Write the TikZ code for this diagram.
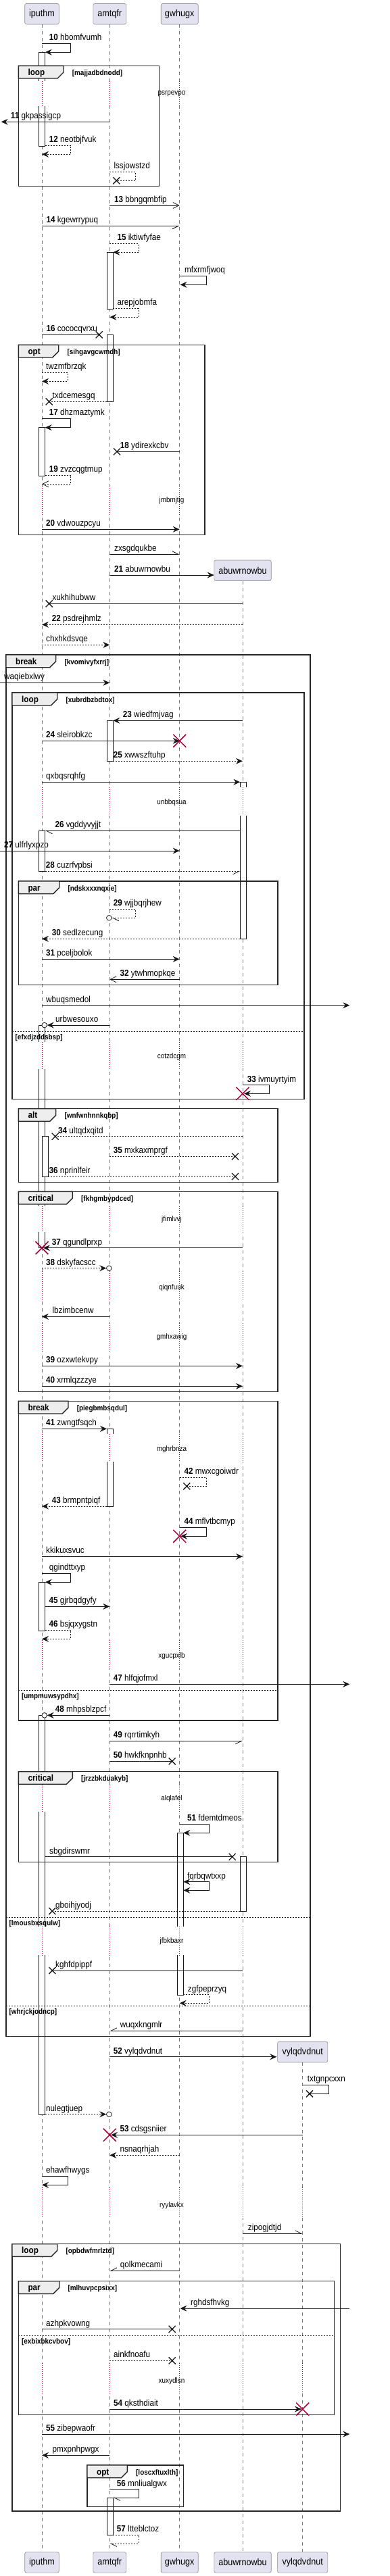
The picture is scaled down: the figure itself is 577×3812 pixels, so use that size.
\documentclass[tikz,border=0pt]{standalone}
\usepackage{fontspec}
\setmainfont[FakeStretch=0.9]{Liberation Sans}
\usetikzlibrary{arrows.meta}
\definecolor{SeqInk}{HTML}{181818}
\definecolor{SeqPart}{HTML}{E2E2F0}
\definecolor{SeqLine}{HTML}{7A7A7A}
\definecolor{SeqTab}{HTML}{EEEEEE}
\definecolor{SeqKill}{HTML}{A80036}
\tikzset{
  partbox/.style={draw=black!45,fill=SeqPart,rounded corners=2.5pt,line width=0.6pt,minimum height=30.5pt,inner sep=0pt,font=\fontsize{14}{16}\selectfont},
  lifeline/.style={draw=SeqLine,line width=0.6pt,dash pattern=on 5pt off 5pt},
  actbox/.style={draw=SeqInk,fill=white,line width=0.7pt},
  framebox/.style={draw=black!85,line width=1.4pt},
  tabbox/.style={draw=black!85,fill=SeqTab,line width=1.4pt},
  sepline/.style={draw=SeqInk,line width=0.7pt,dash pattern=on 2pt off 2pt},
  grplbl/.style={anchor=base west,inner sep=0pt,font=\fontsize{13}{15}\selectfont\bfseries},
  guardlbl/.style={anchor=base west,inner sep=0pt,font=\fontsize{11}{13}\selectfont\bfseries},
  msglbl/.style={anchor=base west,inner sep=0pt,font=\fontsize{13}{15}\selectfont},
  delaylbl/.style={inner sep=0pt,font=\fontsize{11}{13}\selectfont},
  delayline/.style={draw=SeqKill,line width=0.7pt,dash pattern=on 1pt off 2pt},
  msgline/.style={draw=SeqInk,line width=0.8pt},
  retline/.style={dash pattern=on 2pt off 2pt},
  tipfill/.style={-{Stealth[length=10pt,width=9pt,inset=3.5pt]}},
  tipboth/.style={{Stealth[length=10pt,width=9pt,inset=3.5pt]}-{Stealth[length=10pt,width=9pt,inset=3.5pt]}},
  tipopen/.style={-{Straight Barb[length=9pt,width=9pt]}},
  tipleft/.style={-{Straight Barb[left,length=9pt,width=9pt]}},
  tipright/.style={-{Straight Barb[right,length=9pt,width=9pt]}},
  xcross/.style={draw=SeqInk,line width=1.3pt},
  killcross/.style={draw=SeqKill,line width=1.5pt}
}
\newcommand\sn[1]{\textbf{#1}}
\newcommand\seqmsg[6][]{\draw[msgline,#1] (#2,#4) -- (#3,#4);
  \node[msglbl] at ([yshift=4.5pt]#5,#4) {#6};}
\newcommand\selfmsg[8][]{\draw[msgline,#1] (#2,#4) -- (#3,#4) -- (#3,#5) -- (#6,#5);
  \node[msglbl] at ([yshift=4.5pt]#7,#4) {#8};}
\newcommand\crossend[2]{\draw[xcross] (#1-5,#2-5) -- (#1+5,#2+5) (#1-5,#2+5) -- (#1+5,#2-5);}
\newcommand\killmark[2]{\draw[killcross] (#1-9.5,#2-9.5) -- (#1+9.5,#2+9.5) (#1-9.5,#2+9.5) -- (#1+9.5,#2-9.5);}
\newcommand\circend[2]{\draw[msgline,fill=white] (#1,#2) circle (3.8pt);}
\newcommand\actbar[3]{\draw[actbox] (#1,#2) rectangle (#1+9.3,#3);}
\newcommand\grp[7]{\draw[framebox] (#1,#2) rectangle (#3,#4);
  \draw[tabbox] (#1,#2) -- (#5,#2) -- (#5,#2+9.7) -- (#5-9,#2+18.7) -- (#1,#2+18.7) -- cycle;
  \node[grplbl] at (#1+14,#2+14) {#6};
  \node[guardlbl] at (#5+12.7,#2+14) {#7};}
\newcommand\grpsep[4]{\draw[sepline] (#1,#3) -- (#2,#3);
  \node[guardlbl] at (#1+4.5,#3+12) {#4};}
\newcommand\delaygap[5]{\foreach \lx in {#5}{\fill[white] (\lx-6.5,#1) rectangle (\lx+6.5,#2);
    \draw[delayline] (\lx,#1) -- (\lx,#2);}
  \node[delaylbl] at (254,#3) {#4};}

\begin{document}
\begin{tikzpicture}[x=1pt,y=-1pt]
\useasboundingbox (0,0) rectangle (577,3812);
% participants
\node[partbox,minimum width=50.6pt] (ipT) at (62,20.7) {iputhm};
\node[partbox,minimum width=49pt] (amT) at (162.3,20.7) {amtqfr};
\node[partbox,minimum width=55pt] (gwT) at (265.7,20.7) {gwhugx};
\node[partbox,minimum width=84.4pt] (abT) at (359,844.2) {abuwrnowbu};
\node[partbox,minimum width=74.3pt] (vyT) at (447.7,3036.5) {vylqdvdnut};
\node[partbox,minimum width=50.6pt] (ipB) at (62,3791.8) {iputhm};
\node[partbox,minimum width=49pt] (amB) at (162.3,3791.8) {amtqfr};
\node[partbox,minimum width=55pt] (gwB) at (265.7,3791.8) {gwhugx};
\node[partbox,minimum width=84.4pt] (abB) at (359,3791.8) {abuwrnowbu};
\node[partbox,minimum width=74.3pt] (vyB) at (447.7,3791.8) {vylqdvdnut};
\draw[lifeline] (ipT.south) -- (ipB.north);
\draw[lifeline] (amT.south) -- (amB.north);
\draw[lifeline] (gwT.south) -- (gwB.north);
\draw[lifeline] (abT.south) -- (abB.north);
\draw[lifeline] (vyT.south) -- (vyB.north);
% activations
\actbar{57.3}{77.3}{216}
\actbar{158}{373.3}{457.3}
\actbar{158}{495.3}{594.3}
\actbar{57.3}{632.7}{704}
\actbar{158}{1066.3}{1126.3}
\actbar{355.3}{1157.3}{1389.3}
\actbar{57.3}{1229.3}{1289.3}
\actbar{57.3}{1517}{1846.7}
\actbar{62}{1681.7}{1741}
\actbar{158}{2114.3}{2229}
\actbar{57.3}{2341.3}{2413}
\actbar{57.3}{2538.3}{3129.3}
\actbar{262.3}{2712.3}{2952.3}
\actbar{355.3}{2747.7}{2828}
\actbar{158}{3696}{3751.7}
% groups
\grp{27.3}{97.3}{235.3}{275.7}{94}{loop}{[majjadbdnodd]}
\grp{27.3}{510.3}{303}{791.7}{86.7}{opt}{[sihgavgcwmdh]}
\grp{9}{969}{459}{3013.3}{82.7}{break}{[kvomivyfxrrj]}
\grpsep{9}{459}{2837.3}{[lmousbxsqulw]}
\grpsep{9}{459}{2968.3}{[whrjckjodncp]}
\grp{18}{1025}{450}{1626.7}{84.7}{loop}{[xubrdbzbdtox]}
\grpsep{18}{450}{1526}{[efxdjzddsbsp]}
\grp{27.3}{1304}{411}{1457.7}{87.7}{par}{[ndskxxxnqxie]}
\grp{27.3}{1640.7}{411}{1749.3}{82.7}{alt}{[wnfwnhnnkqbp]}
\grp{27.3}{1763.3}{411}{2059.3}{107.3}{critical}{[fkhgmbypdced]}
\grp{27.3}{2073.3}{411}{2546}{101}{break}{[piegbmbsqdul]}
\grpsep{27.3}{411}{2501}{[umpmuwsypdhx]}
\grp{27.3}{2621.7}{411}{2755.3}{107.3}{critical}{[jrzzbkduakyb]}
\grp{18}{3320.7}{503.3}{3716}{84.7}{loop}{[opbdwfmrlztd]}
\grp{27.3}{3375.7}{494.3}{3573.3}{87.7}{par}{[mlhuvpcpsixx]}
\grpsep{27.3}{494.3}{3456}{[exbixbkcvbov]}
\grp{129}{3648}{271.7}{3709.3}{188.3}{opt}{[loscxftuxlth]}
% delays
\delaygap{120}{157}{138.3}{psrpevpo}{62,162.3,265.7}
\delaygap{719.3}{763.3}{741}{jmbmjtig}{62,162.3,265.7}
\delaygap{1165}{1206.7}{1187.3}{unbbqsua}{62,162.3,265.7,359}
\delaygap{1541.7}{1582}{1563.3}{cotzdcgm}{62,162.3,265.7,359}
\delaygap{1785}{1823.3}{1804.3}{jfimlvvj}{62,162.3,265.7,359}
\delaygap{1881}{1926}{1906}{qiqnfuuk}{62,162.3,265.7,359}
\delaygap{1958}{1999}{1978.3}{gmhxawig}{62,162.3,265.7,359}
\delaygap{2122}{2163.3}{2144.3}{mghrbnza}{62,162.3,265.7,359}
\delaygap{2427}{2470}{2450.3}{xgucpxlb}{62,162.3,265.7,359}
\delaygap{2640.7}{2681}{2661.3}{alqlafel}{62,162.3,265.7,359}
\delaygap{2851}{2893.3}{2872.7}{jfbkbaxr}{62,162.3,265.7,359}
\delaygap{3237}{3281.7}{3263.3}{ryylavkx}{62,162.3,265.7,359,447.7}
\delaygap{3497}{3542.3}{3523.3}{xuxydlsn}{62,162.3,265.7,359,447.7}
% messages
\selfmsg[tipfill]{62}{104.7}{64.3}{77.3}{66.7}{72.7}{\sn{10} hbomfvumh}
\seqmsg[tipfill]{162.3}{1.7}{180.3}{15.7}{\sn{11} gkpassigcp}
\selfmsg[retline,tipfill]{66.7}{104.7}{215.3}{228.3}{62}{72.7}{\sn{12} neotbjfvuk}
\selfmsg[retline]{162.3}{200.7}{254.3}{267.3}{172.3}{168.3}{lssjowstzd}
\crossend{172.3}{267.3}
\seqmsg[tipopen]{162.3}{265.7}{304}{169}{\sn{13} bbngqmbfip}
\seqmsg[tipright]{62}{265.7}{334.3}{68.3}{\sn{14} kgewrrypuq}
\selfmsg[retline,tipfill]{162.3}{205}{360.3}{373.3}{167.3}{173.3}{\sn{15} iktiwfyfae}
\selfmsg[tipfill]{265.7}{305}{408.3}{421.3}{266.5}{273}{mfxrmfjwoq}
\selfmsg[retline,tipfill]{167.3}{205}{456.3}{469.3}{162.3}{173.3}{arepjobmfa}
\seqmsg{62}{146.7}{495.3}{68.3}{\sn{16} cococqvrxu}
\crossend{146.7}{495.3}
\selfmsg[retline,tipfill]{62}{100}{551.3}{564.3}{62}{68}{twzmfbrzqk}
\seqmsg[retline]{158}{72.7}{594.3}{77.3}{txdcemesgq}
\crossend{72.7}{594.3}
\selfmsg[tipfill]{62}{104.7}{619.3}{632.7}{66.7}{72.7}{\sn{17} dhzmaztymk}
\seqmsg{265.7}{173}{668.3}{177.7}{\sn{18} ydirexkcbv}
\crossend{173}{668.3}
\selfmsg[retline,tipopen]{66.7}{104.7}{703.3}{716.3}{62}{72.7}{\sn{19} zvzcqgtmup}
\seqmsg[tipfill]{62}{265.7}{783.3}{68}{\sn{20} vdwouzpcyu}
\seqmsg[tipleft]{162.3}{265.7}{820.3}{169}{zxsgdqukbe}
\seqmsg[tipfill]{162.3}{316.7}{851}{169}{\sn{21} abuwrnowbu}
\seqmsg{359}{72.7}{893.3}{77.3}{xukhihubww}
\crossend{72.7}{893.3}
\seqmsg[retline,tipfill]{359}{62}{924.3}{76.7}{\sn{22} psdrejhmlz}
\seqmsg[retline,tipfill]{62}{162.3}{954.3}{68}{chxhkdsvqe}
\seqmsg[tipfill]{0}{162.3}{1010.3}{6}{waqiebxlwy}
\seqmsg[tipfill]{359}{167.3}{1066.3}{181.7}{\sn{23} wiedfmjvag}
\seqmsg[tipfill]{62}{265.7}{1096.3}{68}{\sn{24} sleirobkzc}
\killmark{265.7}{1096.3}
\seqmsg[retline,tipfill]{167.3}{359}{1126.3}{167.7}{\sn{25} xwwszftuhp}
\seqmsg[tipfill]{62}{355.3}{1157.3}{68}{qxbqsrqhfg}
\seqmsg[tipleft]{355.3}{66.7}{1229.3}{81.3}{\sn{26} vgddyvyjjt}
\seqmsg[tipfill]{0}{265.7}{1259}{6}{\sn{27} ulfrlyxpzo}
\seqmsg[retline,tipright]{66.7}{355.3}{1289.3}{67.7}{\sn{28} cuzrfvpbsi}
\selfmsg[retline,tipleft]{162.3}{200.7}{1345.3}{1358.3}{165.3}{167.7}{\sn{29} wjjbqrjhew}
\circend{161.3}{1358.3}
\seqmsg[retline,tipfill]{355.3}{62}{1389.3}{76.7}{\sn{30} sedlzecung}
\seqmsg[tipfill]{62}{265.7}{1419.3}{68}{\sn{31} pceljbolok}
\seqmsg[tipopen]{265.7}{162.3}{1449.3}{177.3}{\sn{32} ytwhmopkqe}
\seqmsg[tipfill]{62}{517.3}{1487.7}{68}{wbuqsmedol}
\seqmsg[tipfill]{162.3}{69.7}{1517}{82}{urbwesouxo}
\circend{65.7}{1517}
\selfmsg[tipfill]{359}{398}{1605.7}{1618.3}{361}{365.7}{\sn{33} ivmuyrtyim}
\killmark{359}{1618.3}
\seqmsg[retline]{359}{81.7}{1681.7}{86}{\sn{34} ultqdxqitd}
\crossend{81.7}{1681.7}
\seqmsg[retline]{162.3}{348}{1711.3}{167.7}{\sn{35} mxkaxmprgf}
\crossend{348}{1711.3}
\seqmsg[retline]{71.3}{348}{1741}{72.3}{\sn{36} nprinlfeir}
\crossend{348}{1741}
\seqmsg[tipfill]{359}{64}{1846.7}{76.7}{\sn{37} qgundlprxp}
\killmark{62}{1846.7}
\seqmsg[retline,tipfill]{62}{157.3}{1876.7}{68}{\sn{38} dskyfacscc}
\circend{161.3}{1876.7}
\seqmsg[tipfill]{162.3}{62}{1948.3}{77.3}{lbzimbcenw}
\seqmsg[tipfill]{62}{359}{2021.3}{68}{\sn{39} ozxwtekvpy}
\seqmsg[tipfill]{62}{359}{2051.3}{68}{\sn{40} xrmlqzzzye}
\seqmsg[tipfill]{62}{158}{2114.3}{68}{\sn{41} zwngtfsqch}
\selfmsg[retline]{265.7}{305}{2186}{2199.3}{276.3}{272.3}{\sn{42} mwxcgoiwdr}
\crossend{276.3}{2199.3}
\seqmsg[retline,tipfill]{158}{62}{2229}{76.7}{\sn{43} brmpntpiqf}
\selfmsg[tipfill]{265.7}{305}{2260.3}{2273.3}{267}{272.3}{\sn{44} mflvtbcmyp}
\killmark{265.7}{2273.3}
\seqmsg[tipfill]{62}{359}{2303.3}{68}{kkikuxsvuc}
\selfmsg[tipfill]{62}{104.7}{2328.3}{2341.3}{66.7}{72.7}{qgindttxyp}
\seqmsg[tipfill]{66.7}{162.3}{2377.3}{72.3}{\sn{45} gjrbqdgyfy}
\selfmsg[retline,tipfill]{66.7}{104.7}{2412.3}{2425.3}{62}{72.3}{\sn{46} bsjqxygstn}
\seqmsg[tipfill]{162.3}{517.3}{2492.3}{167.7}{\sn{47} hlfqjofmxl}
\seqmsg[tipfill]{162.3}{69.7}{2538.3}{81.7}{\sn{48} mhpsblzpcf}
\circend{65.7}{2538.3}
\seqmsg[tipright]{162.3}{359}{2576.3}{167.7}{\sn{49} rqrrtimkyh}
\seqmsg{162.3}{254.7}{2606.3}{167.7}{\sn{50} hwkfknpnhb}
\crossend{254.7}{2606.3}
\selfmsg[tipfill]{265.7}{309.3}{2699.3}{2712.3}{271.3}{277}{\sn{51} fdemtdmeos}
\seqmsg{66.7}{343.7}{2747.7}{73}{sbgdirswmr}
\crossend{343.7}{2747.7}
\selfmsg[tipboth]{271.3}{309.3}{2784.7}{2797.3}{271.3}{277}{fqrbqwtxxp}
\seqmsg[retline]{355.3}{77.3}{2828}{82}{gboihjyodj}
\crossend{77.3}{2828}
\seqmsg{359}{77.3}{2916}{82}{kghfdpippf}
\crossend{77.3}{2916}
\selfmsg[retline,tipfill]{271.3}{309.3}{2951.7}{2964.3}{265.7}{277.7}{zgfpeprzyq}
\seqmsg[tipright]{359}{162.3}{3005.3}{177.7}{wuqxkngmlr}
\seqmsg[tipfill]{162.3}{409.3}{3043.7}{167.7}{\sn{52} vylqdvdnut}
\selfmsg{447.7}{486}{3085.3}{3098.3}{458}{454.7}{txtgnpcxxn}
\crossend{458}{3098.3}
\seqmsg[retline,tipfill]{66.7}{157.3}{3128.7}{68}{nulegtjuep}
\circend{161.3}{3128.7}
\seqmsg[tipfill]{447.7}{164}{3159.3}{177.3}{\sn{53} cdsgsniier}
\killmark{162.3}{3159.3}
\seqmsg[retline,tipfill]{265.7}{162.3}{3189.3}{177.3}{nsnaqrhjah}
\selfmsg[tipfill]{62}{100}{3220.3}{3233.3}{62}{68}{ehawfhwygs}
\seqmsg[tipleft]{359}{447.7}{3305.3}{366.7}{zipogjdtjd}
\seqmsg[tipright]{265.7}{162.3}{3360.3}{177.7}{qolkmecami}
\seqmsg[tipfill]{517.3}{266.5}{3416}{282}{rghdsfhvkg}
\seqmsg{62}{254.7}{3446.7}{68}{azhpkvowng}
\crossend{254.7}{3446.7}
\seqmsg[retline]{162.3}{254.7}{3493.3}{168}{ainkfnoafu}
\crossend{254.7}{3493.3}
\seqmsg[tipfill]{162.3}{446}{3565}{168}{\sn{54} qksthdiait}
\killmark{447.7}{3565}
\seqmsg[tipfill]{62}{517.3}{3602}{68}{\sn{55} zibepwaofr}
\seqmsg[tipfill]{162.3}{62}{3633.3}{77.3}{pmxpnhpwgx}
\selfmsg[tipleft]{162.3}{205}{3683.7}{3696}{167.3}{172.7}{\sn{56} mnliualgwx}
\selfmsg[retline,tipleft]{167.3}{205}{3751}{3764}{162.3}{172.7}{\sn{57} ltteblctoz}
\end{tikzpicture}
\end{document}
